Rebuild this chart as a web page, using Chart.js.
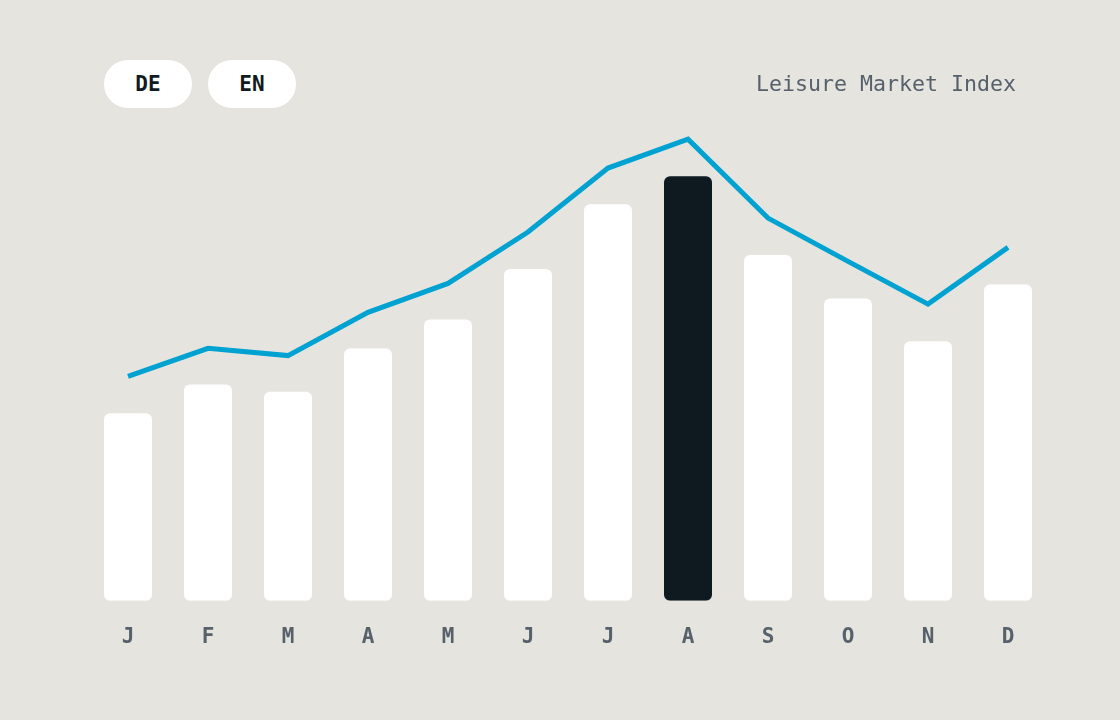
<!DOCTYPE html>
<html>
<head>
<meta charset="utf-8">
<script src="https://cdn.jsdelivr.net/npm/chart.js@4.4.1/dist/chart.umd.min.js"></script>
<style>
  html, body { margin: 0; padding: 0; background: #e5e4df; }
  #wrap { position: relative; width: 1120px; height: 720px; }
  .pill {
    position: absolute; top: 60px; width: 88px; height: 48px;
    border-radius: 24px; background: #fff; border: none;
    font: bold 21px "DejaVu Sans Mono", monospace; color: #111a20;
    line-height: 48px; text-align: center; padding: 0;
  }
  #title {
    position: absolute; top: 70px; right: 104px;
    font: 21.6px "DejaVu Sans Mono", monospace; color: #56616b;
    line-height: 28px;
  }
</style>
</head>
<body>
<div id="wrap">
  <canvas id="myChart" width="1120" height="720"></canvas>
  <button class="pill" style="left:104px">DE</button>
  <button class="pill" style="left:208px">EN</button>
  <div id="title">Leisure Market Index</div>
</div>
<script>
var months = ['J','F','M','A','M','J','J','A','S','O','N','D'];
var barValues = [39, 45, 43.5, 52.5, 58.5, 69, 82.5, 88.3, 71.9, 62.9, 54, 65.8];
var lineValues = [46.7, 52.5, 51, 60, 66, 76.7, 90, 96, 79.6, 70.6, 61.7, 73.5];
var highlightIndex = 7;

var barColors = barValues.map((v, i) => i === highlightIndex ? '#0f1920' : '#ffffff');

var ctx = document.getElementById('myChart');

var myChart = new Chart(ctx, {
  type: 'bar',
  data: {
    labels: months,
    datasets: [{
      type: 'line',
      data: lineValues,
      borderColor: '#00a2d2',
      borderWidth: 5,
      pointRadius: 0,
      fill: false,
      tension: 0,
      order: 0
    }, {
      type: 'bar',
      data: barValues,
      backgroundColor: barColors,
      borderRadius: 6,
      borderSkipped: false,
      barPercentage: 0.6,
      categoryPercentage: 1,
      order: 1
    }]
  },
  options: {
    responsive: false,
    animation: false,
    layout: { padding: { left: 88, right: 72, top: 120, bottom: 54 } },
    plugins: { legend: { display: false }, tooltip: { enabled: false } },
    scales: {
      x: {
        grid: { display: false },
        border: { display: false },
        ticks: {
          color: '#56616b',
          padding: 16,
          font: { family: 'DejaVu Sans Mono', size: 21, weight: 'bold' }
        }
      },
      y: {
        display: false,
        min: 0,
        max: 100
      }
    }
  }
});
</script>
</body>
</html>
